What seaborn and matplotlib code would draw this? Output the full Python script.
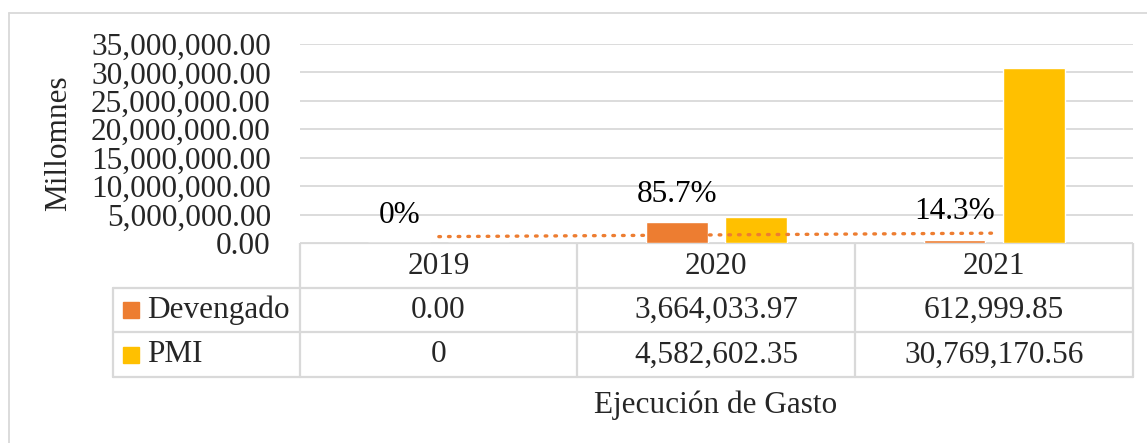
import numpy as np
import pandas as pd
import matplotlib
matplotlib.use("Agg")
import matplotlib.pyplot as plt
import seaborn as sns

# data
years = ["2019", "2020", "2021"]
devengado = [0.00, 3664033.97, 612999.85]
pmi = [0, 4582602.35, 30769170.56]
devengado_txt = ["0.00", "3,664,033.97", "612,999.85"]
pmi_txt = ["0", "4,582,602.35", "30,769,170.56"]
series = ["Devengado", "PMI"]
colors = {"Devengado": "#ED7D31", "PMI": "#FFC000"}
pct_labels = ["0%", "85.7%", "14.3%"]
y_ticks = [0, 5e6, 10e6, 15e6, 20e6, 25e6, 30e6, 35e6]

sns.set_theme(style="white")
plt.rcParams['font.family'] = ['Liberation Serif', 'DejaVu Serif']
FS = 22.5
GRID = "#D9D9D9"

W, H = 1147, 443
fig = plt.figure(figsize=(W / 100, H / 100), dpi=100)


def fbox(x0, y0, x1, y1):
    # pixel box (top-left origin) -> figure fraction rect
    return [x0 / W, 1 - y1 / H, (x1 - x0) / W, (y1 - y0) / H]


# outer chart border (only top/left visible in the reference)
fig.add_artist(plt.Line2D([9 / W, 1], [1 - 13 / H, 1 - 13 / H], color=GRID, lw=1.3))
fig.add_artist(plt.Line2D([9 / W, 9 / W], [0, 1 - 13 / H], color=GRID, lw=1.3))

df = pd.DataFrame({
    "year": years * 2,
    "serie": ["Devengado"] * 3 + ["PMI"] * 3,
    "valor": devengado + pmi,
})

ax = fig.add_axes(fbox(300, 44, 1133, 243))
sns.barplot(data=df, x="year", y="valor", hue="serie", palette=colors,
            width=0.57, gap=0.22, saturation=1, legend=False, ax=ax)
ax.set_xlim(-0.5, 2.5)
ax.set_ylim(0, 35e6)
ax.set_yticks(y_ticks)
ax.set_yticklabels([f"{v:,.2f}" for v in y_ticks], fontsize=FS)
ax.tick_params(axis="y", length=0, pad=21)
ax.set_xticks([])
ax.set_xlabel("")
ax.set_ylabel("Millomnes", fontsize=FS, labelpad=4)
ax.yaxis.set_label_coords(-0.2725, 0.5)
ax.grid(axis="y", color=GRID, lw=1.3)
ax.set_axisbelow(True)
for s in ax.spines.values():
    s.set_visible(False)

# linear trend of Devengado (dotted)
xs = np.arange(len(years))
coef = np.polyfit(xs, devengado, 1)
ax.plot(xs, np.polyval(coef, xs), color="#ED7D31", lw=2.4,
        linestyle=(0, (0.5, 2.4)), dash_capstyle="round", zorder=3)

# percentage labels above Devengado bars
for i, lab in enumerate(pct_labels):
    ax.annotate(lab, (i - 0.1425, devengado[i]), xytext=(0, 20),
                textcoords="offset points", ha="center", va="center",
                fontsize=FS, color="black")

# data table below the plot
tx = fig.add_axes(fbox(0, 243, W, 443))
tx.set_xlim(0, W)
tx.set_ylim(443, 243)
tx.axis("off")

col_x = [300, 577, 855, 1133]
row_y = [243, 288, 332, 377]
lw = 1.6
tx.plot([300, 1133], [243, 243], color=GRID, lw=lw)
for y in row_y[1:]:
    tx.plot([113, 1133], [y, y], color=GRID, lw=lw)
tx.plot([113, 113], [288, 377], color=GRID, lw=lw)
for x in col_x:
    tx.plot([x, x], [243, 377], color=GRID, lw=lw)

for j, yr in enumerate(years):
    cx = (col_x[j] + col_x[j + 1]) / 2
    tx.text(cx, 266, yr, ha="center", va="center", fontsize=FS)
    tx.text(cx, 310, devengado_txt[j], ha="center", va="center", fontsize=FS)
    tx.text(cx, 355, pmi_txt[j], ha="center", va="center", fontsize=FS)

for k, (name, ry) in enumerate(zip(series, [310, 355])):
    tx.add_patch(plt.Rectangle((123, ry - 8), 16, 16, color=colors[name]))
    tx.text(147, ry, name, ha="left", va="center", fontsize=FS)

tx.text(716, 405, "Ejecución de Gasto", ha="center", va="center", fontsize=FS)

fig.savefig("out.png", dpi=100)
